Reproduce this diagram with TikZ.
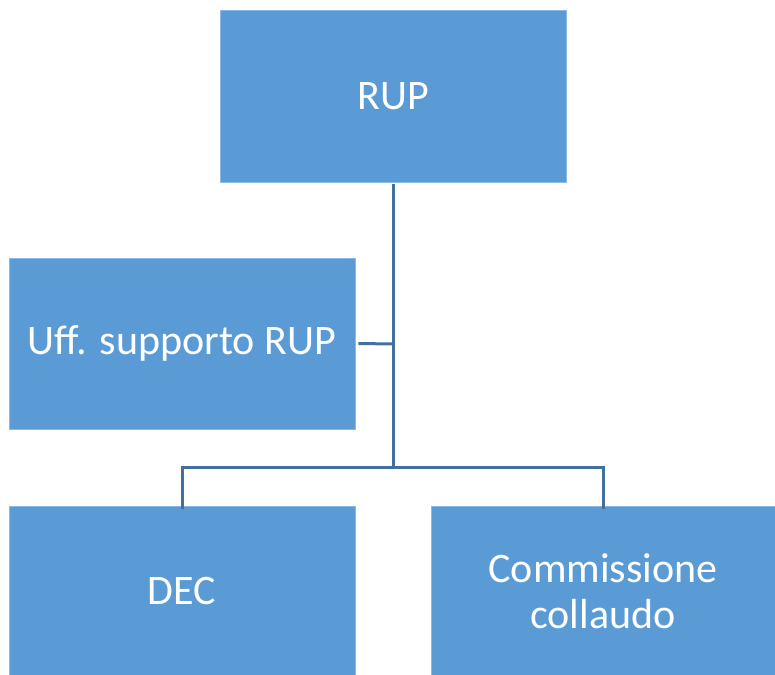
\documentclass[tikz,border=0pt]{standalone}
\usepackage{fontspec}
\setmainfont{Carlito}
\definecolor{boxblue}{HTML}{5B9BD5}
\definecolor{boxedge}{HTML}{8DB9E6}
\definecolor{linkblue}{HTML}{41719C}
\begin{document}
\begin{tikzpicture}[x=1pt,y=-1pt,
  orgbox/.style={rectangle,fill=boxblue,draw=boxedge,line width=0.8pt,text=white,
    font=\fontsize{42}{46}\selectfont,align=center,inner sep=0pt},
  link/.style={draw=linkblue,line width=3pt}]
\useasboundingbox (0,0) rectangle (775,674);
\node[orgbox,minimum width=346pt,minimum height=172pt] (rup) at (393,96) {RUP};
\node[orgbox,minimum width=346pt,minimum height=171pt] (uff) at (182,343.5) {Uff. supporto RUP};
\node[orgbox,minimum width=346pt,minimum height=170pt] (dec) at (182,591) {DEC};
\node[orgbox,minimum width=344pt,minimum height=170pt] (com) at (603,591) {Commissione\\collaudo};
\coordinate (j1) at (393,344);
\coordinate (j2) at (393,467);
\draw[link] (rup.south) ++(0,2) -- (j2);
\draw[link] (uff.east) ++(3,0) -- (j1);
\draw[link] ([yshift=-3pt]dec.north) -- (dec.north |- j2) -- (com.north |- j2) -- ([yshift=-3pt]com.north);
\end{tikzpicture}
\end{document}
